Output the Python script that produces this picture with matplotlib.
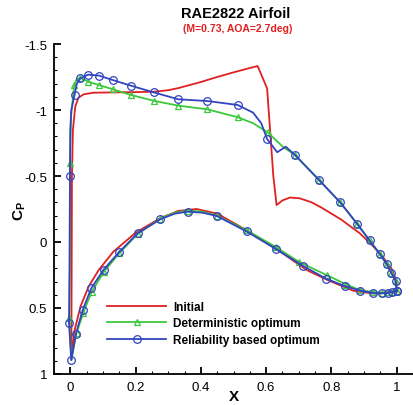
import numpy as np
import matplotlib.pyplot as plt
from matplotlib.ticker import MultipleLocator

plt.rcParams['font.family'] = ['Liberation Sans', 'DejaVu Sans']
plt.rcParams['mathtext.fontset'] = 'custom'
plt.rcParams['mathtext.bf'] = 'Liberation Sans:bold'
plt.rcParams['mathtext.rm'] = 'Liberation Sans:bold'

# Pressure coefficient along the RAE2822 section (x/c, Cp)
# Initial geometry: upper surface LE -> TE, then lower surface LE -> TE
init_x_upper = [0.003, 0.004, 0.005, 0.008, 0.015, 0.025, 0.041, 0.071, 0.15, 0.255,
                0.30, 0.331, 0.367, 0.40, 0.45, 0.50, 0.55, 0.574, 0.603, 0.612,
                0.622, 0.632, 0.65, 0.673, 0.703, 0.74, 0.77, 0.83, 0.887, 0.917,
                0.953, 0.984, 1.0, 1.0]
init_cp_upper = [0.894, 0.3, -0.5, -0.85, -1.025, -1.093, -1.119, -1.131, -1.134, -1.138,
                 -1.15, -1.166, -1.19, -1.212, -1.25, -1.285, -1.318, -1.333, -1.164, -0.85,
                 -0.5, -0.28, -0.315, -0.337, -0.331, -0.3, -0.26, -0.17, -0.066, 0.005,
                 0.098, 0.2, 0.3, 0.376]
init_x_lower = [0.003, 0.012, 0.031, 0.056, 0.087, 0.132, 0.2, 0.275, 0.33, 0.387,
                0.45, 0.54, 0.63, 0.724, 0.79, 0.867, 0.928, 0.96, 1.0]
init_cp_lower = [0.894, 0.68, 0.49, 0.338, 0.212, 0.073, -0.07, -0.18, -0.235, -0.25,
                 -0.215, -0.09, 0.05, 0.212, 0.29, 0.369, 0.39, 0.388, 0.376]

# Deterministic optimum (True = symbol drawn at that point)
det_x_upper = [0.003, -0.003, -0.002, -0.001, 0.002, 0.012, 0.02, 0.031, 0.054, 0.087,
               0.13, 0.186, 0.255, 0.331, 0.42, 0.513, 0.56, 0.605, 0.652, 0.688,
               0.762, 0.827, 0.878, 0.917, 0.948, 0.97, 0.984, 0.997, 1.0]
det_cp_upper = [0.894, 0.578, 0.0, -0.596, -0.95, -1.19, -1.235, -1.245, -1.215, -1.19,
                -1.157, -1.114, -1.07, -1.033, -1.005, -0.945, -0.90, -0.83, -0.72, -0.66,
                -0.47, -0.30, -0.14, -0.012, 0.09, 0.169, 0.237, 0.293, 0.372]
det_sym_upper = [False, True, False, True, False, True, False, True, True, True,
                 True, True, True, True, True, True, False, True, False, True,
                 True, True, True, True, True, True, True, True, True]
det_x_lower = [0.003, 0.019, 0.04, 0.066, 0.103, 0.150, 0.206, 0.276, 0.32, 0.36,
               0.405, 0.449, 0.54, 0.631, 0.70, 0.785, 0.846, 0.887, 0.928, 0.955,
               0.972, 0.986, 1.0]
det_cp_lower = [0.894, 0.69, 0.535, 0.375, 0.225, 0.085, -0.06, -0.178, -0.222, -0.238,
                -0.23, -0.2, -0.09, 0.04, 0.15, 0.25, 0.322, 0.364, 0.38, 0.384,
                0.382, 0.377, 0.372]
det_sym_lower = [False, True, True, True, True, True, True, True, False, True,
                 False, True, True, True, True, True, True, True, True, True,
                 True, True, True]

# Reliability based optimum
rel_x_upper = [0.003, -0.004, -0.002, -0.001, 0.0, 0.003, 0.013, 0.02, 0.031, 0.055,
               0.089, 0.13, 0.186, 0.255, 0.331, 0.42, 0.513, 0.56, 0.585, 0.603,
               0.634, 0.66, 0.688, 0.762, 0.827, 0.878, 0.917, 0.948, 0.97, 0.984,
               0.997, 1.0]
rel_cp_upper = [0.894, 0.616, 0.2, -0.5, -0.85, -1.0, -1.114, -1.2, -1.24, -1.268,
                -1.26, -1.227, -1.184, -1.134, -1.081, -1.068, -1.038, -0.98, -0.9, -0.78,
                -0.68, -0.722, -0.66, -0.47, -0.30, -0.14, -0.012, 0.09, 0.169, 0.237,
                0.293, 0.372]
rel_sym_upper = [True, True, False, True, False, False, True, False, True, True,
                 True, True, True, True, True, True, True, False, False, True,
                 False, False, True, True, True, True, True, True, True, True,
                 True, True]
rel_x_lower = [0.003, 0.017, 0.038, 0.064, 0.102, 0.150, 0.206, 0.276, 0.32, 0.36,
               0.405, 0.449, 0.54, 0.631, 0.712, 0.783, 0.842, 0.889, 0.928, 0.955,
               0.972, 0.986, 1.0]
rel_cp_lower = [0.894, 0.697, 0.515, 0.351, 0.21, 0.075, -0.066, -0.172, -0.215, -0.23,
                -0.222, -0.197, -0.08, 0.055, 0.18, 0.277, 0.335, 0.369, 0.387, 0.388,
                0.385, 0.378, 0.372]
rel_sym_lower = [False, True, True, True, True, True, True, True, False, True,
                 False, True, True, True, True, True, True, True, True, True,
                 True, True, True]

red = '#e02020'
green = '#3cc83c'
blue = '#3344c0'

fig = plt.figure(figsize=(4.13, 4.06), dpi=100)
ax = fig.add_axes([54/413, 31/406, 359/413, 330/406])


def around(xu, yu, xl, yl):
    # walk TE -> LE on the upper side, then LE -> TE on the lower side
    return np.r_[xu[::-1], xl[1:]], np.r_[yu[::-1], yl[1:]]


x, cp = around(init_x_upper, init_cp_upper, init_x_lower, init_cp_lower)
ax.plot(x, cp, color=red, lw=1.3, label='Initial')

x, cp = around(det_x_upper, det_cp_upper, det_x_lower, det_cp_lower)
sym = np.r_[det_sym_upper[::-1], det_sym_lower[1:]]
ax.plot(x, cp, color=green, lw=1.3, marker='^', ms=4.5, mfc='none', mew=0.9,
        markevery=list(np.where(sym)[0]), label='Deterministic optimum')

x, cp = around(rel_x_upper, rel_cp_upper, rel_x_lower, rel_cp_lower)
sym = np.r_[rel_sym_upper[::-1], rel_sym_lower[1:]]
ax.plot(x, cp, color=blue, lw=1.3, marker='o', ms=5.5, mfc='none', mew=0.9,
        markevery=list(np.where(sym)[0]), label='Reliability based optimum')

ax.set_xlim(-0.05, 1.05)
ax.set_ylim(1.0, -1.5)
ax.spines['top'].set_visible(False)
ax.spines['right'].set_visible(False)
ax.spines['left'].set_linewidth(1.3)
ax.spines['bottom'].set_linewidth(1.3)

ax.xaxis.set_minor_locator(MultipleLocator(0.05))
ax.yaxis.set_minor_locator(MultipleLocator(0.1))
ax.set_xticks([0, 0.2, 0.4, 0.6, 0.8, 1.0])
ax.set_xticklabels(['0', '0.2', '0.4', '0.6', '0.8', '1'])
ax.set_yticks([-1.5, -1, -0.5, 0, 0.5, 1])
ax.set_yticklabels(['-1.5', '-1', '-0.5', '0', '0.5', '1'])
ax.tick_params(which='major', direction='in', length=5, width=1.3, labelsize=9.5, pad=5)
ax.tick_params(which='minor', direction='in', length=2.5, width=0.8)

ax.set_xlabel('X', fontsize=11, fontweight='bold', va='center')
ax.xaxis.set_label_coords(0.501, -0.067)
ax.set_ylabel(r'$\mathbf{C_P}$', fontsize=11, rotation=90, va='center')
ax.yaxis.set_label_coords(-0.095, 0.497)

fig.text(236/413, 1 - 14/406, 'RAE2822 Airfoil', ha='center', va='center',
         fontsize=10.5, fontweight='bold')
fig.text(238/413, 1 - 29/406, '(M=0.73, AOA=2.7deg)', ha='center', va='center',
         fontsize=7.5, fontweight='bold', color=red)

leg = ax.legend(loc='upper left', bbox_to_anchor=(0.148, 0.222), frameon=False,
                fontsize=8.5, handlelength=5.0, handletextpad=0.6, labelspacing=0.4,
                borderpad=0, borderaxespad=0, numpoints=1, markerfirst=True)
for t in leg.get_texts():
    t.set_fontweight('bold')

fig.savefig('out.png', dpi=100)
